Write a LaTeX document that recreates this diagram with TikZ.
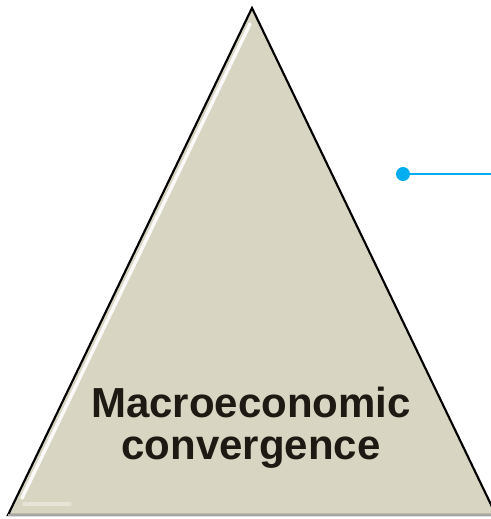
\documentclass[tikz,border=0pt]{standalone}
\usepackage{fontspec}
\setmainfont{Liberation Sans}
\usepackage{tikz}
\usetikzlibrary{calc}
\definecolor{sand}{HTML}{D9D5C3}
\definecolor{ink}{HTML}{1C1A12}
\definecolor{cyanline}{HTML}{00AEEF}
\tikzset{
  tri/.style={fill=sand,draw=black,line width=1.6pt,line join=miter},
  shine/.style={draw=white,line width=2.6pt,line cap=round,opacity=0.9},
  dot/.style={circle,fill=cyanline,inner sep=0pt,minimum size=10.5pt},
  lead/.style={draw=cyanline,line width=2.2pt},
  lbl/.style={font=\bfseries\fontsize{31.5}{31.5}\selectfont,text=ink,align=center},
}
\begin{document}
\begin{tikzpicture}[x=0.75pt,y=-0.75pt]
\useasboundingbox (0,0) rectangle (491,519);
\coordinate (top) at (252,8); \coordinate (bl) at (8,515); \coordinate (br) at (496,515);
\path[tri] (top)--(br)--(bl)--cycle;
\draw[draw=gray!70,line width=1.2pt] (bl)--(br);
\draw[shine] (250,24)--(22,498); \draw[shine,opacity=0.35] (24,504)--(70,504);
\node[dot] (pin) at (403,174){}; \coordinate (pinend) at (491,174);
\draw[lead] (pin)--(pinend);
\node[lbl] (title) at (251,428){Macroeconomic\\convergence};
\end{tikzpicture}
\end{document}
